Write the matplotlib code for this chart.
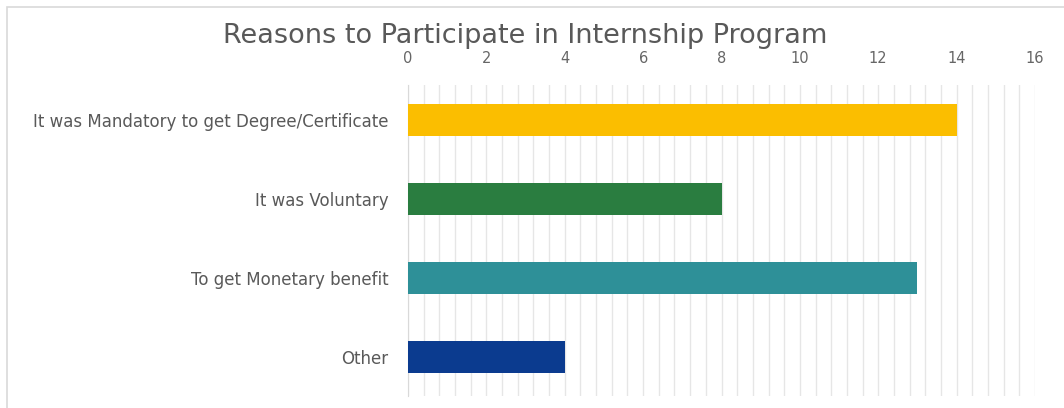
import numpy as np
import matplotlib.pyplot as plt
from matplotlib.patches import Rectangle

categories = ["It was Mandatory to get Degree/Certificate", "It was Voluntary",
              "To get Monetary benefit", "Other"]
counts = [14, 8, 13, 4]
colors = ["#FBBE00", "#2A7D40", "#2E9098", "#0B3B8F"]

plt.rcParams['font.family'] = ['DejaVu Sans']

fig = plt.figure(figsize=(10.64, 4.08), dpi=100)
ax = fig.add_axes([408/1064, 1 - 396/408, (1035 - 408)/1064, (396 - 85)/408])

y = np.arange(len(categories))
ax.barh(y, counts, height=0.4, color=colors, zorder=3)

ax.set_xlim(0, 16)
ax.set_ylim(3.49, -0.44)
ax.set_xticks(np.arange(0, 17, 2))
ax.set_xticks(np.arange(0, 16.01, 0.4), minor=True)
ax.xaxis.tick_top()
ax.tick_params(axis='x', which='both', length=0, pad=14, labelsize=10.5, labelcolor="#666666")
ax.grid(axis='x', which='both', color="#E6E6E6", linewidth=1, zorder=0)
ax.set_yticks(y)
ax.set_yticklabels(categories)
ax.tick_params(axis='y', length=0, pad=14, labelsize=12, labelcolor="#595959")

for s in ['top', 'right', 'bottom']:
    ax.spines[s].set_visible(False)
ax.spines['left'].set_color("#D9D9D9")

# chart frame
fig.patches.append(Rectangle((7/1064, -0.05), 1.1, 1 - 7/408 + 0.05, transform=fig.transFigure,
                             fill=False, edgecolor="#D9D9D9", linewidth=1.2))

fig.text(525/1064, 1 - 36/408, "Reasons to Participate in Internship Program",
         ha='center', va='center', fontsize=19.5, color="#595959")

fig.savefig("out.png", dpi=100)
